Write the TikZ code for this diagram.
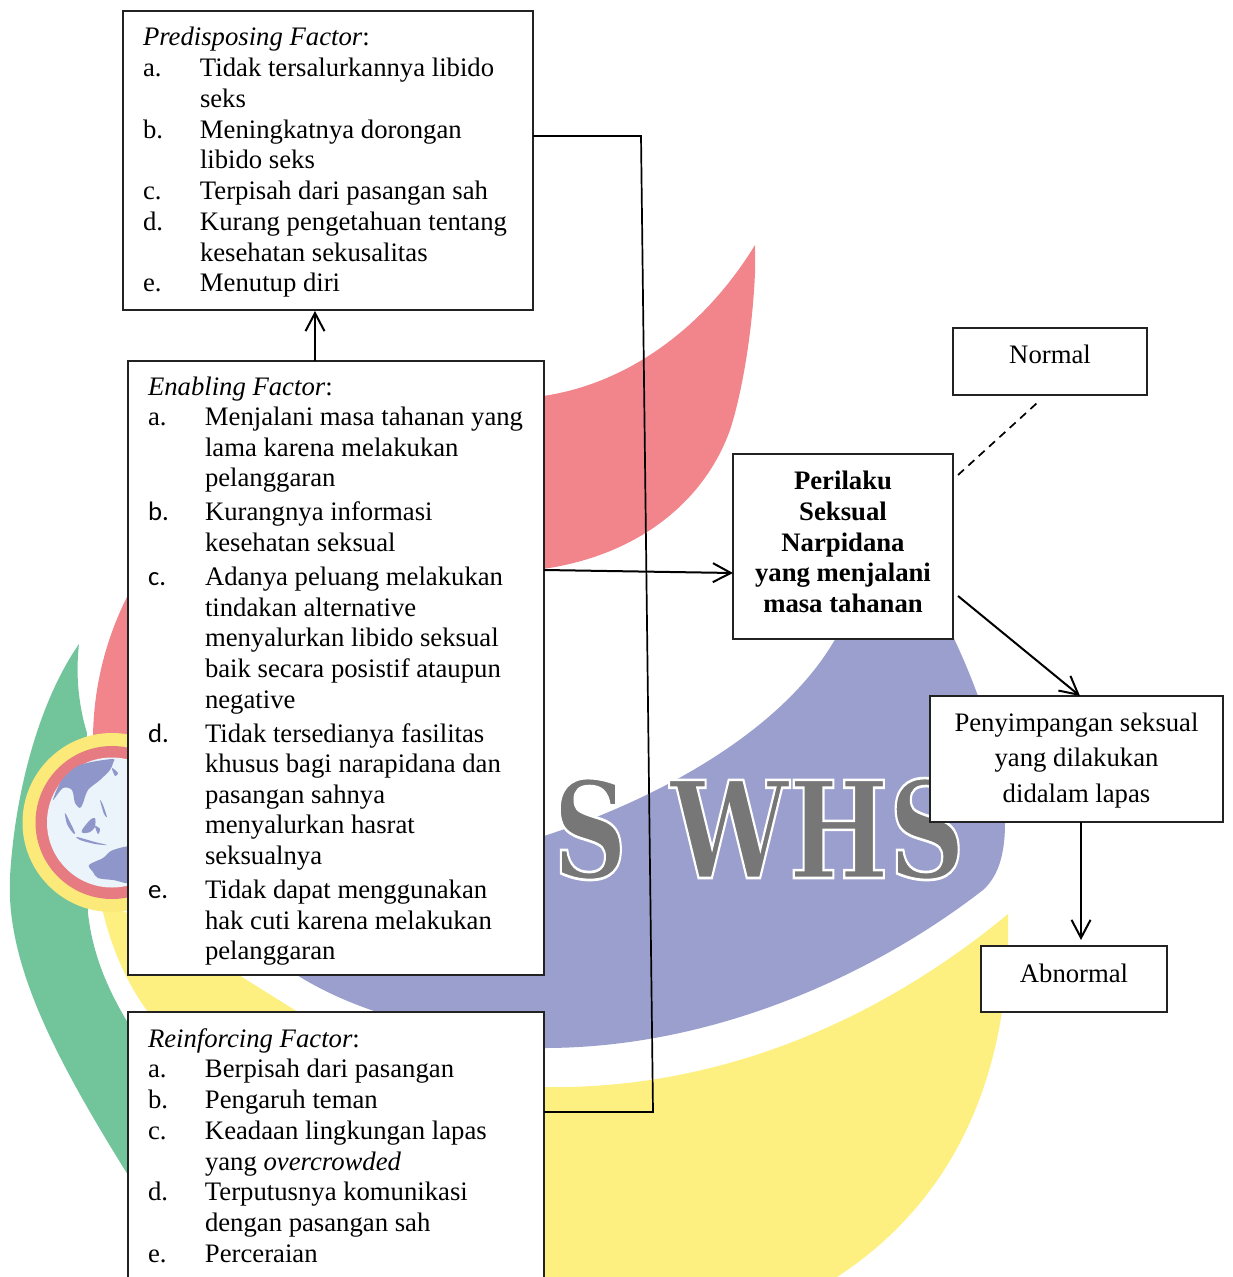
\documentclass[tikz,border=0pt]{standalone}
\usepackage{fontspec}
\setmainfont{Liberation Serif}
\newfontfamily\calfont{Carlito}
\newfontfamily\whsfont[BoldFeatures={FakeBold=2}]{DejaVu Serif}
\usetikzlibrary{arrows.meta}
\definecolor{logored}{HTML}{F2858C}
\definecolor{logoblue}{HTML}{9A9FCD}
\definecolor{logoyellow}{HTML}{FDF081}
\definecolor{logogreen}{HTML}{72C59B}
\definecolor{ringyellow}{HTML}{FBE97A}
\definecolor{ringred}{HTML}{E67C82}
\definecolor{globe}{HTML}{EAF4FA}
\definecolor{landblue}{HTML}{8F96CA}
\definecolor{whsgray}{HTML}{777777}
\definecolor{boxline}{HTML}{222222}
\newcommand{\boxtext}[6][15.375]{\parbox[c][#3pt][t]{#2pt}{\fontsize{13.35}{#1}\selectfont\raggedright\hbadness=10000\hfuzz=50pt\parindent=0pt #5\rule{0pt}{#4pt}#6}}
\newcommand{\lftset}{\leftskip=10pt\rightskip=0pt plus 50pt }
\newcommand{\ctrset}{\leftskip=0pt plus 1fil\rightskip=0pt plus 1fil\parfillskip=0pt }
\newcommand{\itm}[2]{\makebox[28.5pt][l]{#1}#2}
\newcommand{\itmind}{\hspace*{28.5pt}}
\newcommand{\clab}[1]{{\calfont #1}}
\newcommand{\outlined}[3]{\resizebox{#1pt}{#2pt}{\textcolor{whsgray}{\special{pdf:code 1 1 1 RG}\fontsize{65}{70}\whsfont\bfseries #3}}}
\tikzset{
  x=0.5pt,y=-0.5pt,
  fbox/.style={draw=boxline,line width=0.55pt,fill=white,inner sep=0pt,outer sep=0pt,anchor=north west},
  conn/.style={draw=black,line width=0.85pt},
  arr/.style={draw=black,line width=1pt,-{Straight Barb[length=9pt,width=9.5pt,line width=1pt]}},
  whs/.style={inner sep=0pt,outer sep=0pt,anchor=south west}
}
\begin{document}
\begin{tikzpicture}
\useasboundingbox (0,0) rectangle (1232,1277);
\clip (0,0) rectangle (1232,1277);
% logo
\fill[logored] (755,245) .. controls (700,335) and (620,385) .. (543,396) -- (200,500) -- (128,595)
  .. controls (105,640) and (93,690) .. (93,740) -- (128,740) -- (300,650) -- (543,569)
  .. controls (640,555) and (705,500) .. (730,430) .. controls (740,400) and (752,340) .. (755,273) -- cycle;
\fill[logogreen] (79,644) .. controls (40,700) and (15,790) .. (10,877) .. controls (6,960) and (50,1050) .. (128,1175)
  -- (140,1192) -- (150,1060) -- (128,1023) .. controls (105,985) and (92,950) .. (88,913)
  -- (85,850) -- (87,733) .. controls (80,710) and (75,680) .. (79,644) -- cycle;
\fill[logoyellow] (1008,914) .. controls (880,1020) and (720,1090) .. (544,1087) -- (400,1055) -- (298,1012) -- (242,977) -- (180,930)
  -- (103,905) -- (103,912) .. controls (112,950) and (128,985) .. (148,1012) -- (300,1277) -- (837,1277)
  .. controls (940,1210) and (1003,1100) .. (1008,946) -- cycle;
\fill[logoblue] (845,620) .. controls (800,720) and (670,795) .. (544,836) -- (290,970) -- (300,977)
  .. controls (325,992) and (350,1003) .. (377,1012) -- (544,1048) .. controls (720,1048) and (880,970) .. (983,890)
  .. controls (1000,875) and (1005,850) .. (1005,823) .. controls (1003,760) and (980,690) .. (945,620) -- cycle;
\fill[ringyellow] (112,822.5) circle[radius=89.5];
\fill[ringred] (112,822.5) circle[radius=76.5];
\fill[globe] (112,822.5) circle[radius=65];
\begin{scope}[landblue]
\fill plot[smooth cycle] coordinates {(53,800)(62,780)(80,765)(112,759)(113,763)(110,770)(100,780)(88,790)(83,803)(80,808)(75,803)(72,790)(63,788)};
\fill plot[smooth cycle] coordinates {(112,768)(118,773)(115,776)};
\fill plot[smooth cycle] coordinates {(65,813)(70,822)(75,833)(73,833)(67,824)};
\fill plot[smooth cycle] coordinates {(82,830)(90,820)(95,818)(95,827)(90,832)(83,833)};
\fill plot[smooth cycle] coordinates {(77,837)(95,842)(107,845)(95,844)(80,840)};
\fill plot[smooth cycle] coordinates {(100,800)(103,805)(107,817)(104,814)};
\fill plot[smooth cycle] coordinates {(95,826)(100,829)(98,834)};
\fill plot[smooth cycle] coordinates {(89,865)(103,858)(113,850)(135,848)(135,882)(113,880)(98,878)(93,872)};
\end{scope}
\node[whs] (whsS) at (553,880) {\outlined{37}{50}{S}};
\node[whs] (whsW) at (670,880) {\outlined{147.5}{50}{WHS}};
% boxes
\node[fbox] (pred) at (123,11) {\boxtext{205}{149.5}{17.5}{\lftset}{\textit{Predisposing Factor}:\\
\itm{a.}{Tidak tersalurkannya libido}\\ \itmind seks\\
\itm{b.}{Meningkatnya dorongan}\\ \itmind libido seks\\
\itm{c.}{Terpisah dari pasangan sah}\\
\itm{d.}{Kurang pengetahuan tentang}\\ \itmind kesehatan sekusalitas\\
\itm{e.}{Menutup diri}}};
\node[fbox] (enab) at (128,361) {\boxtext[15.3]{208}{307}{17}{\lftset}{\textit{Enabling Factor}:\\
\itm{a.}{Menjalani masa tahanan yang}\\ \itmind lama karena melakukan\\ \itmind pelanggaran\\[1.75pt]
\itm{\clab{b.}}{Kurangnya informasi}\\ \itmind kesehatan seksual\\[1.75pt]
\itm{\clab{c.}}{Adanya peluang melakukan}\\ \itmind tindakan alternative\\ \itmind menyalurkan libido seksual\\ \itmind baik secara posistif ataupun\\ \itmind negative\\[1.75pt]
\itm{\clab{d.}}{Tidak tersedianya fasilitas}\\ \itmind khusus bagi narapidana dan\\ \itmind pasangan sahnya\\ \itmind menyalurkan hasrat\\ \itmind seksualnya\\[1.75pt]
\itm{\clab{e.}}{Tidak dapat menggunakan}\\ \itmind hak cuti karena melakukan\\ \itmind pelanggaran}};
\node[fbox] (reinf) at (128,1012) {\boxtext{208}{160}{17.5}{\lftset}{\textit{Reinforcing Factor}:\\
\itm{a.}{Berpisah dari pasangan}\\
\itm{b.}{Pengaruh teman}\\
\itm{c.}{Keadaan lingkungan lapas}\\ \itmind yang \textit{overcrowded}\\
\itm{d.}{Terputusnya komunikasi}\\ \itmind dengan pasangan sah\\
\itm{e.}{Perceraian}}};
\node[fbox] (normal) at (953,328) {\boxtext{97}{33.5}{18}{\ctrset}{Normal}};
\node[fbox] (peril) at (733,454) {\boxtext{110}{92.5}{17.75}{\ctrset}{\textbf{Perilaku}\\ \textbf{Seksual}\\ \textbf{Narpidana}\\ \textbf{yang menjalani}\\ \textbf{masa tahanan}}};
\node[fbox] (peny) at (930,696) {\boxtext[17.8]{146.5}{63}{17.5}{\ctrset}{Penyimpangan seksual\\ yang dilakukan\\ didalam lapas}};
\node[fbox] (abn) at (981,946) {\boxtext{93}{33}{18}{\ctrset}{Abnormal}};
% connector anchors
\coordinate (predout) at ([yshift=-62.5pt]pred.north east);
\coordinate (bendA) at (641,136);
\coordinate (bendB) at (653,1112);
\coordinate (reinfin) at ([yshift=-50pt]reinf.north east);
\coordinate (enabup) at ([xshift=93.5pt]enab.north west);
\coordinate (predin) at ([xshift=96pt,yshift=-0.5pt]pred.south west);
\coordinate (enabout) at ([yshift=-104.5pt]enab.north east);
\coordinate (perilin) at ([yshift=-59.5pt]peril.north west);
\coordinate (perilup) at ([xshift=2.5pt,yshift=-10.5pt]peril.north east);
\coordinate (normdn) at ([xshift=-6.5pt,yshift=-4pt]normal.south);
\coordinate (perildn) at ([xshift=2.5pt,yshift=-71pt]peril.north east);
\coordinate (penyin) at ([xshift=75pt]peny.north west);
\coordinate (penyout) at ([xshift=75.5pt]peny.south west);
\coordinate (abnin) at ([xshift=50pt,yshift=3pt]abn.north west);
% connectors
\draw[conn] (predout) -- (bendA) -- (bendB) -- (reinfin);
\draw[arr] (enabup) -- (predin);
\draw[arr] (enabout) -- (perilin);
\draw[conn,dashed,dash pattern=on 4pt off 3pt] (perilup) -- (normdn);
\draw[arr] (perildn) -- (penyin);
\draw[arr] (penyout) -- (abnin);
\end{tikzpicture}
\end{document}
